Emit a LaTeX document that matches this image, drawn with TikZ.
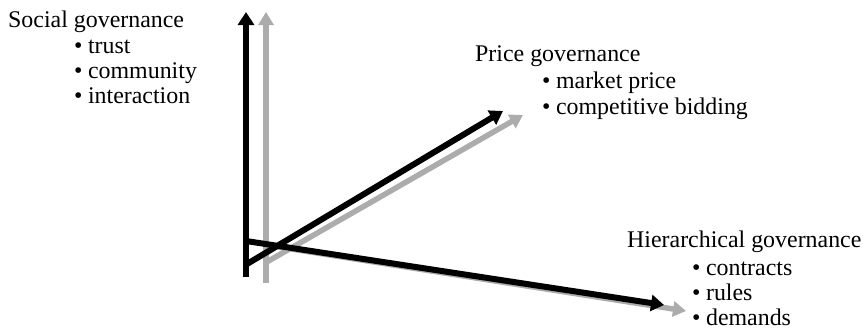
\documentclass[tikz,border=0pt]{standalone}
\usepackage{fontspec}
\setmainfont{Liberation Serif}
\usetikzlibrary{arrows.meta}
\definecolor{axisgray}{RGB}{172,172,172}
\begin{document}
\begin{tikzpicture}[x=1pt,y=-1pt,
  axisblack/.style={draw=black,line width=6pt,-{Triangle[length=13pt,width=16pt]}},
  axisgrey/.style={draw=axisgray,line width=5.5pt,-{Triangle[length=13pt,width=15pt]}},
  head/.style={anchor=base west,inner sep=0pt,font=\fontsize{23.9}{25}\selectfont},
  item/.style={anchor=base west,inner sep=0pt,font=\fontsize{23.9}{25}\selectfont}]
\useasboundingbox (0,0) rectangle (865,333);
% coordinates
\coordinate (gv0) at (266,283);
\coordinate (gv1) at (266,12);
\coordinate (bv0) at (246,277);
\coordinate (bv1) at (246,12);
\coordinate (gd0) at (265,263);
\coordinate (gd1) at (523,115);
\coordinate (bd0) at (247,264);
\coordinate (bd1) at (503,111);
\coordinate (gh0) at (266,245);
\coordinate (gh1) at (686,311);
\coordinate (bh0) at (246,241);
\coordinate (bh1) at (664,305);
% grey axes
\draw[axisgrey] (gv0) -- (gv1);
\draw[axisgrey] (gd0) -- (gd1);
\draw[axisgrey] (gh0) -- (gh1);
% black axes
\draw[axisblack] (bv0) -- (bv1);
\draw[axisblack] (bd0) -- (bd1);
\draw[axisblack] (bh0) -- (bh1);
% texts
\node[head] (soc) at (8,27) {Social governance};
\node[item] (soc1) at (74,53) {\textbullet\hspace{5.5pt}trust};
\node[item] (soc2) at (74,78) {\textbullet\hspace{5.5pt}community};
\node[item] (soc3) at (74,103) {\textbullet\hspace{5.5pt}interaction};
\node[head] (pri) at (475,61) {Price governance};
\node[item] (pri1) at (542,88) {\textbullet\hspace{5.5pt}market price};
\node[item] (pri2) at (542,114) {\textbullet\hspace{5.5pt}competitive bidding};
\node[head] (hie) at (627,247) {Hierarchical governance};
\node[item] (hie1) at (692,275) {\textbullet\hspace{5.5pt}contracts};
\node[item] (hie2) at (692,300) {\textbullet\hspace{5.5pt}rules};
\node[item] (hie3) at (692,325) {\textbullet\hspace{5.5pt}demands};
\end{tikzpicture}
\end{document}
